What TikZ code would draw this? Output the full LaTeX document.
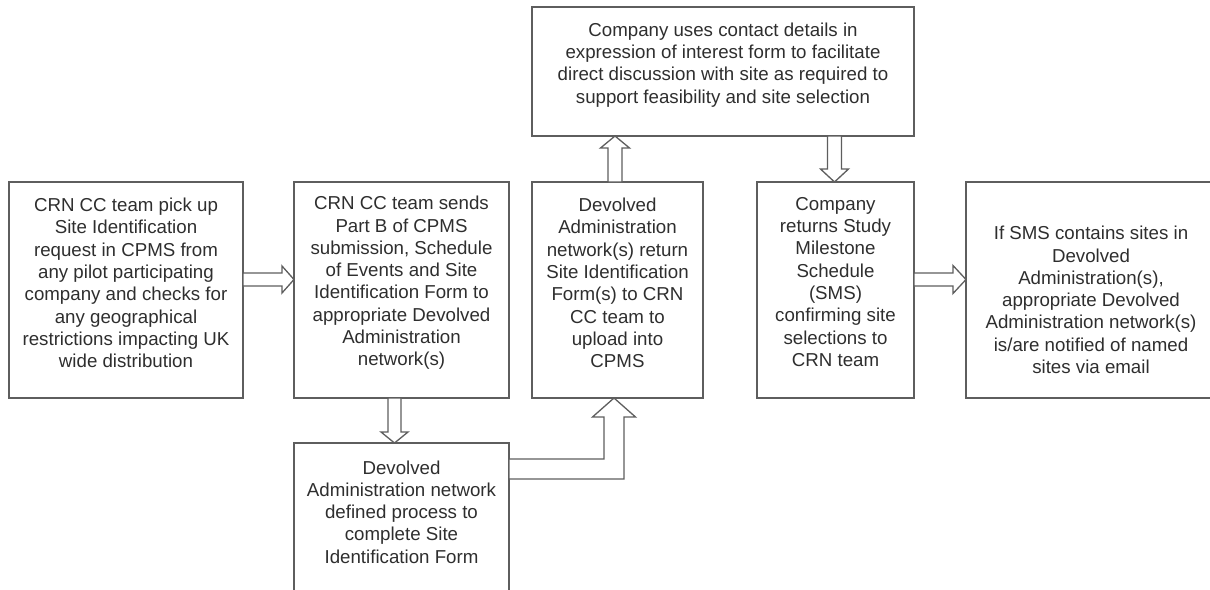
\documentclass[tikz,border=0pt]{standalone}
\usepackage{fontspec}
\setmainfont{Liberation Sans}
\usetikzlibrary{calc}
\definecolor{edgecol}{HTML}{5E5E5E}
\definecolor{txtcol}{HTML}{2E2E2E}
\tikzset{
  box/.style={draw=edgecol, line width=1.3pt, inner sep=0pt, outer sep=0pt, anchor=north west},
  boxtext/.style={align=center, text=txtcol, inner sep=0pt, font=\fontsize{18.7}{22.3}\selectfont},
  blk/.style={draw=edgecol, line width=1.3pt, fill=white, line join=miter}
}
% right-pointing block arrow: start, tip, half shaft, half head, head length
\newcommand{\rarr}[5]{\draw[blk] ($(#1)+(0,-#3)$) -- ($(#2)+(-#5,-#3)$) -- ($(#2)+(-#5,-#4)$) -- (#2) -- ($(#2)+(-#5,#4)$) -- ($(#2)+(-#5,#3)$) -- ($(#1)+(0,#3)$) -- cycle;}
% down-pointing block arrow
\newcommand{\darr}[5]{\draw[blk] ($(#1)+(-#3,0)$) -- ($(#2)+(-#3,-#5)$) -- ($(#2)+(-#4,-#5)$) -- (#2) -- ($(#2)+(#4,-#5)$) -- ($(#2)+(#3,-#5)$) -- ($(#1)+(#3,0)$) -- cycle;}
% up-pointing block arrow
\newcommand{\uarr}[5]{\draw[blk] ($(#1)+(-#3,0)$) -- ($(#2)+(-#3,#5)$) -- ($(#2)+(-#4,#5)$) -- (#2) -- ($(#2)+(#4,#5)$) -- ($(#2)+(#3,#5)$) -- ($(#1)+(#3,0)$) -- cycle;}
\begin{document}
\begin{tikzpicture}[x=1pt,y=-1pt]
\useasboundingbox (0,0) rectangle (1210,589);

% boxes
\node[box, minimum width=234, minimum height=216] (b1) at (9,182) {};
\node[box, minimum width=215, minimum height=216] (b2) at (294,182) {};
\node[box, minimum width=171, minimum height=216] (b3) at (532,182) {};
\node[box, minimum width=157, minimum height=216] (b4) at (757,182) {};
\node[box, minimum width=250, minimum height=216] (b6) at (966,182) {};
\node[box, minimum width=382, minimum height=129] (top) at (532,7) {};
\node[box, minimum width=215, minimum height=160] (b5) at (294,443) {};

% texts
\node[boxtext] (t1) at (126,283) {CRN CC team pick up\\Site Identification\\request in CPMS from\\any pilot participating\\company and checks for\\any geographical\\restrictions impacting UK\\wide distribution};
\node[boxtext] (t2) at (401.5,283) {CRN CC team sends\\Part B of CPMS\\submission, Schedule\\of Events and Site\\Identification Form to\\appropriate Devolved\\Administration\\network(s)};
\node[boxtext] (t3) at (617.5,283) {Devolved\\Administration\\network(s) return\\Site Identification\\Form(s) to CRN\\CC team to\\upload into\\CPMS};
\node[boxtext] (t4) at (835.5,282) {Company\\returns Study\\Milestone\\Schedule\\(SMS)\\confirming site\\selections to\\CRN team};
\node[boxtext] (t6) at (1091,300) {If SMS contains sites in\\Devolved\\Administration(s),\\appropriate Devolved\\Administration network(s)\\is/are notified of named\\sites via email};
\node[boxtext] (tt) at (723,65) {Company uses contact details in\\expression of interest form to facilitate\\direct discussion with site as required to\\support feasibility and site selection};
\node[boxtext] (t5) at (401.5,512) {Devolved\\Administration network\\defined process to\\complete Site\\Identification Form};

% helper coordinates
\coordinate (ya) at (0,279.5);
\coordinate (xb) at (394.5,0);
\coordinate (xc) at (615,0);
\coordinate (xd) at (834.5,0);
\coordinate (ye) at (0,469);
\coordinate (xe) at (614,0);

\coordinate (a1s) at (b1.east |- ya);
\coordinate (a1e) at (b2.west |- ya);
\coordinate (a2s) at (b2.south -| xb);
\coordinate (a2e) at (b5.north -| xb);
\coordinate (a3s) at (b3.north -| xc);
\coordinate (a3e) at (top.south -| xc);
\coordinate (a4s) at (top.south -| xd);
\coordinate (a4e) at (b4.north -| xd);
\coordinate (a5s) at (b4.east |- ya);
\coordinate (a5e) at (b6.west |- ya);
\coordinate (a6s) at (b5.east |- ye);
\coordinate (a6c) at (xe |- ye);
\coordinate (a6e) at (b3.south -| xe);

% block arrows
\rarr{a1s}{a1e}{6.5}{13.5}{12}
\darr{a2s}{a2e}{6.5}{13.5}{11}
\uarr{a3s}{a3e}{7}{14.5}{12}
\darr{a4s}{a4e}{7}{14}{13}
\rarr{a5s}{a5e}{6.5}{14}{13}
\draw[blk] ($(a6s)+(0,-10)$) -- ($(a6c)+(-10,-10)$) -- ($(a6e)+(-10,19)$) -- ($(a6e)+(-21.5,19)$) -- (a6e) -- ($(a6e)+(21.5,19)$) -- ($(a6e)+(10,19)$) -- ($(a6c)+(10,10)$) -- ($(a6s)+(0,10)$) -- cycle;
\end{tikzpicture}
\end{document}
